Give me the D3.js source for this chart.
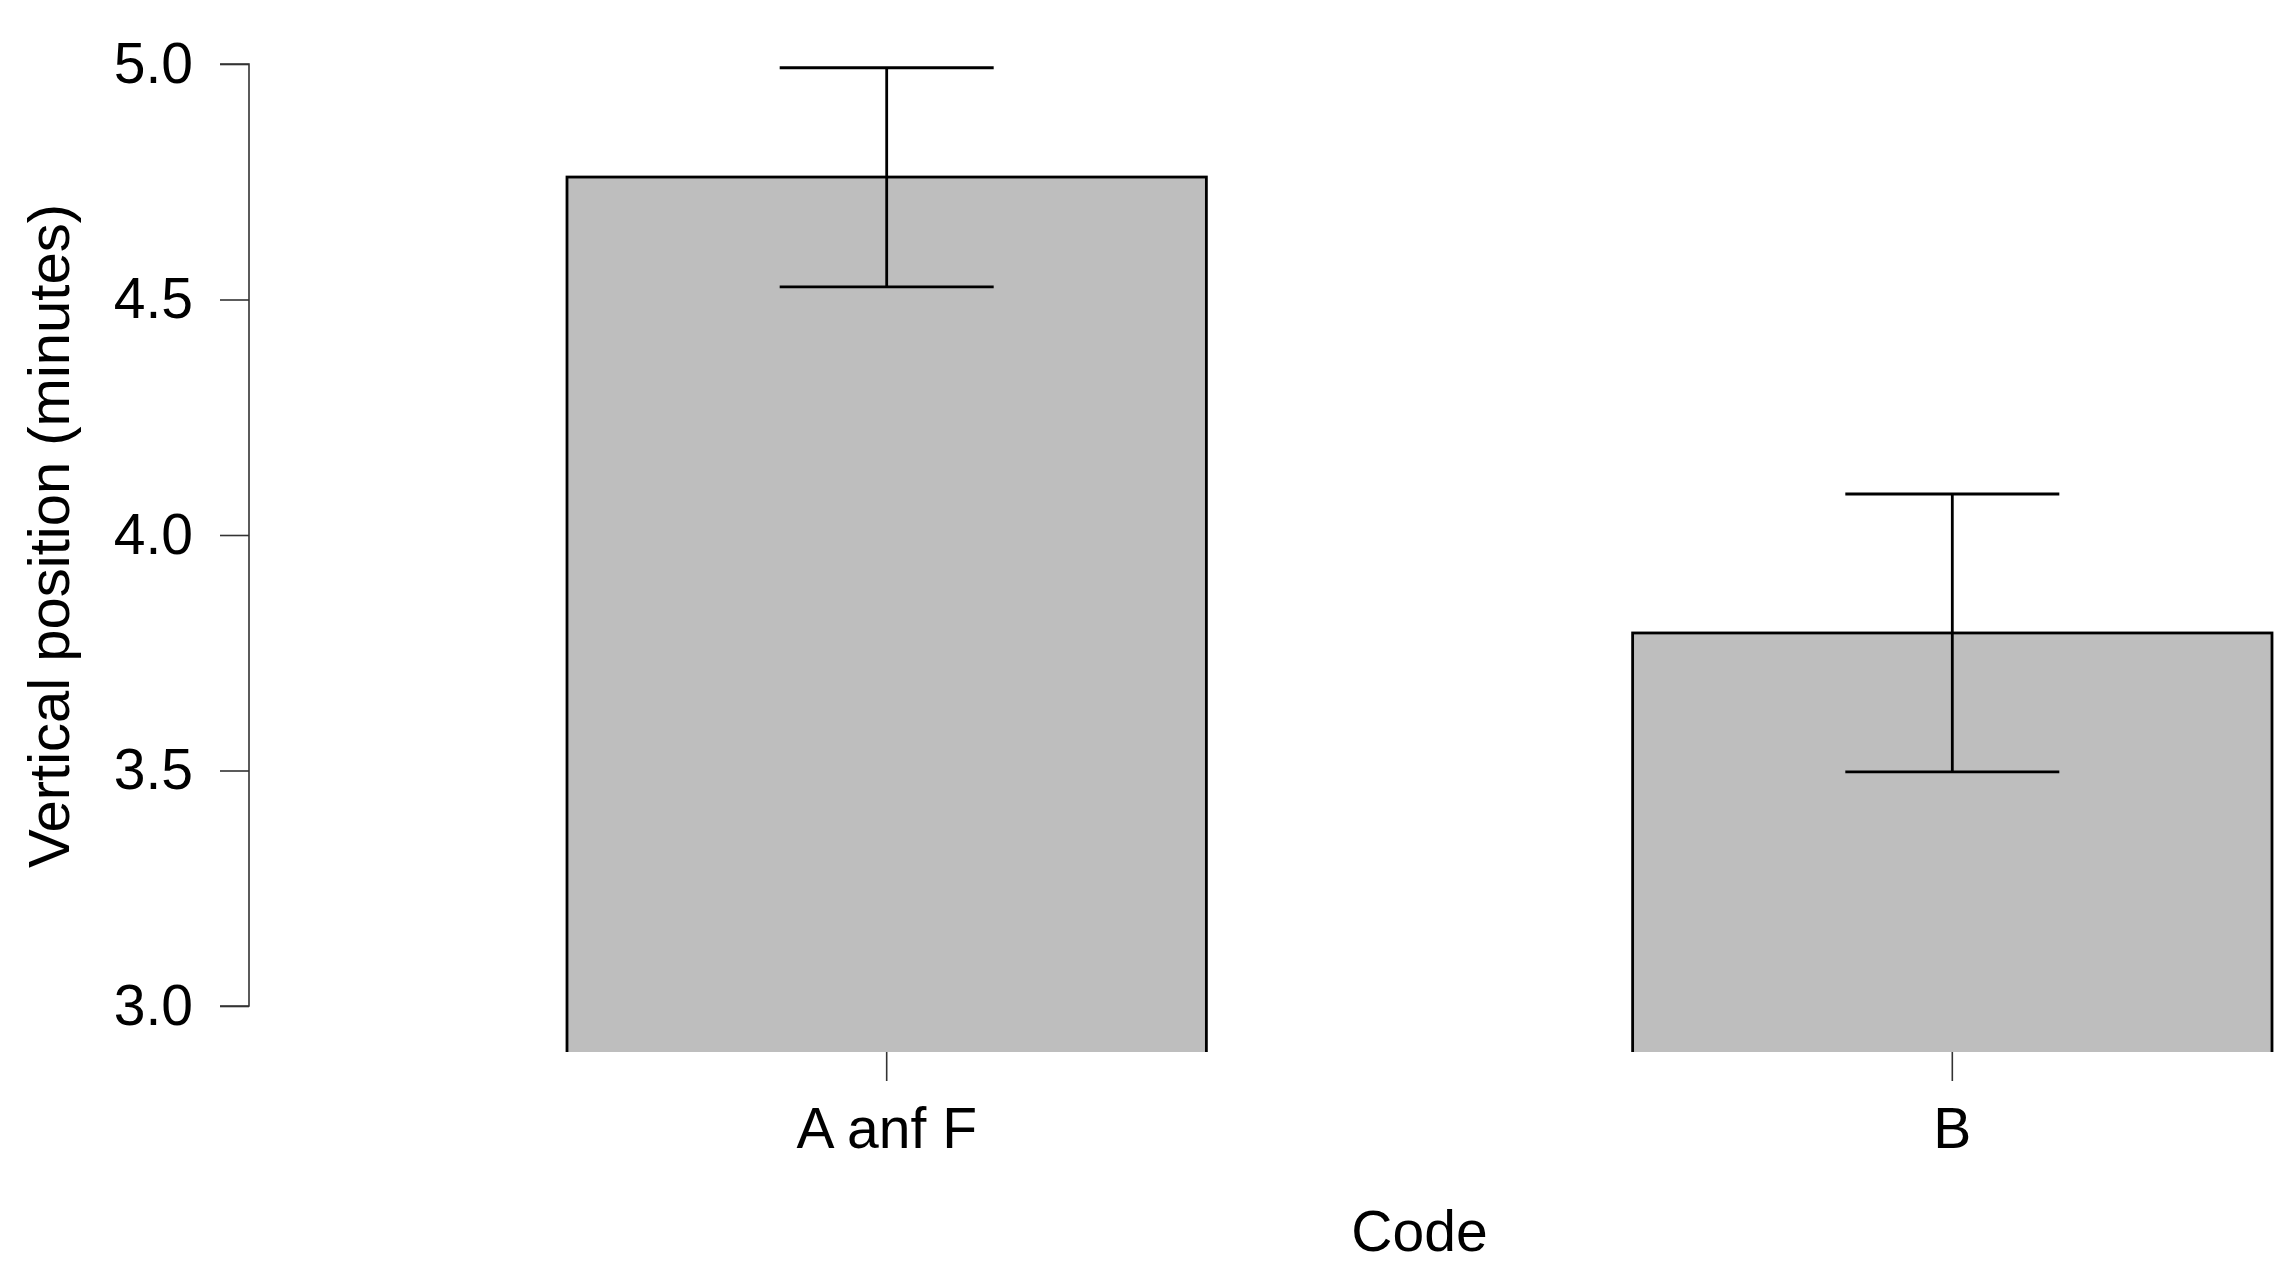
<!DOCTYPE html>
<html>
<head>
<meta charset="utf-8">
<script src="https://cdn.jsdelivr.net/npm/d3@7"></script>
<style>
  html, body { margin: 0; padding: 0; background: #fff; }
  svg { display: block; }
  text { font-family: "Liberation Sans", Arial, Helvetica, sans-serif; fill: #000; }
</style>
</head>
<body>
<svg id="chart" width="2295" height="1282"></svg>
<script>
// ---- data ----
const categories = ["A anf F", "B"];
const means = [4.76, 3.792];
const upper = [4.992, 4.087];
const lower = [4.527, 3.497];
const yTicks = [3.0, 3.5, 4.0, 4.5, 5.0];
const xTitle = "Code";
const yTitle = "Vertical position (minutes)";

// ---- layout ----
const W = 2295, H = 1282;
const svg = d3.select("#chart");

const y = d3.scaleLinear().domain([3, 5]).range([1006, 64]);
const x = d3.scaleBand().domain(categories).range([567, 2272])
  .paddingInner(0.4).paddingOuter(0);

const clipBottom = 1052;
const fontSize = 57;

svg.append("defs").append("clipPath").attr("id", "plotclip")
  .append("rect").attr("x", 0).attr("y", 0).attr("width", W).attr("height", clipBottom);

const plot = svg.append("g").attr("clip-path", "url(#plotclip)");

// bars
plot.selectAll("rect.bar").data(categories).enter().append("rect")
  .attr("class", "bar")
  .attr("x", d => x(d))
  .attr("width", x.bandwidth())
  .attr("y", (d, i) => y(means[i]))
  .attr("height", (d, i) => clipBottom + 10 - y(means[i]))
  .attr("fill", "#bebebe")
  .attr("stroke", "#000")
  .attr("stroke-width", 2.8);

// error bars
const capHalf = 107;
const eb = svg.append("g").attr("stroke", "#000").attr("stroke-width", 2.8).attr("fill", "none");
categories.forEach((c, i) => {
  const cx = x(c) + x.bandwidth() / 2;
  eb.append("line").attr("x1", cx).attr("x2", cx).attr("y1", y(lower[i])).attr("y2", y(upper[i]));
  eb.append("line").attr("x1", cx - capHalf).attr("x2", cx + capHalf).attr("y1", y(upper[i])).attr("y2", y(upper[i]));
  eb.append("line").attr("x1", cx - capHalf).attr("x2", cx + capHalf).attr("y1", y(lower[i])).attr("y2", y(lower[i]));
});

// y axis
const yAxis = d3.axisLeft(y).tickValues(yTicks).tickFormat(d3.format(".1f"))
  .tickSize(29).tickPadding(27);
const gy = svg.append("g").attr("transform", "translate(249,0)").call(yAxis);
gy.select(".domain").attr("stroke", "#333").attr("stroke-width", 1.6)
  .attr("d", `M-29,${y(5)}H0V${y(3)}H-29`);
gy.selectAll(".tick line").attr("stroke", "#333").attr("stroke-width", 1.6);
gy.selectAll(".tick text").style("font-size", fontSize + "px")
  .style("font-family", '"Liberation Sans", Arial, sans-serif').attr("fill", "#000");

// x axis (ticks only)
const xAxis = d3.axisBottom(x).tickSize(29).tickPadding(27);
const gx = svg.append("g").attr("transform", `translate(0,${clipBottom})`).call(xAxis);
gx.select(".domain").remove();
gx.selectAll(".tick line").attr("stroke", "#333").attr("stroke-width", 1.6);
gx.selectAll(".tick text").style("font-size", fontSize + "px")
  .style("font-family", '"Liberation Sans", Arial, sans-serif').attr("fill", "#000");

// titles
svg.append("text").attr("x", (567 + 2272) / 2).attr("y", 1251)
  .attr("text-anchor", "middle").style("font-size", fontSize + "px").text(xTitle);
svg.append("text").attr("transform", "translate(69,536) rotate(-90)")
  .attr("text-anchor", "middle").style("font-size", "58px").text(yTitle);
</script>
</body>
</html>
